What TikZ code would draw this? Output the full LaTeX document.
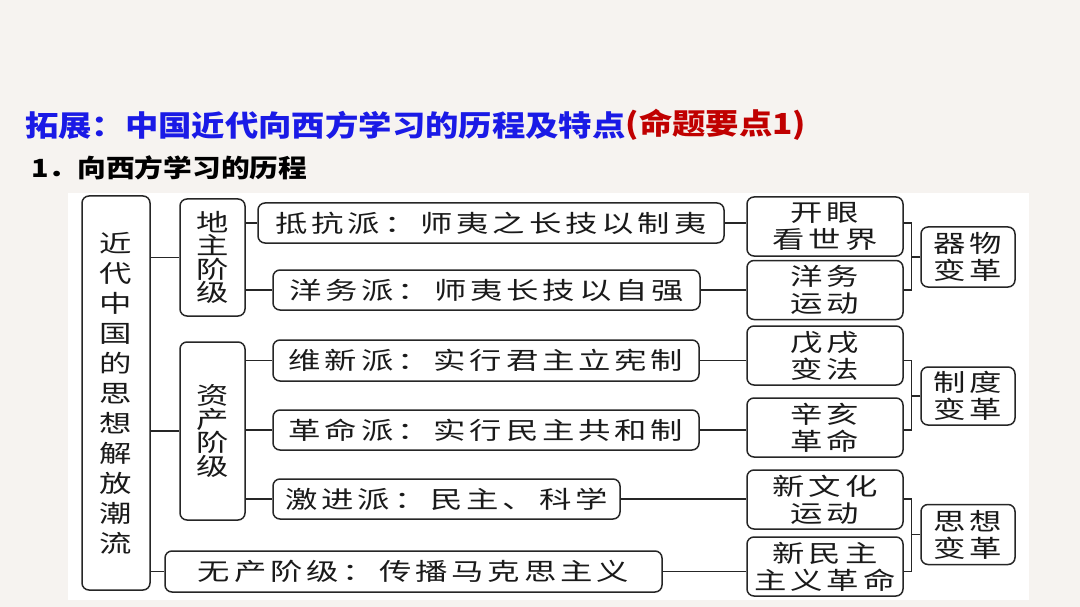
\documentclass[tikz,border=0pt]{standalone}
\usepackage{fontspec}
\usepackage{xcolor}
\usepackage{tikz}
\newfontfamily\BoxCJK[FakeStretch=1.35,LetterSpace=16]{Noto Sans CJK SC}
\newfontfamily\StackCJK[FakeStretch=1.35]{Noto Sans CJK SC}
\newfontfamily\HeadCJK[FakeStretch=1.15]{Noto Sans CJK SC}
\definecolor{SlideBlue}{HTML}{1A1AE6}
\definecolor{SlideRed}{HTML}{C00000}
\definecolor{SlideInk}{HTML}{1A1A1A}
\definecolor{SlideLine}{HTML}{262626}
\definecolor{SlidePaper}{HTML}{F6F3F0}
\newcommand{\HeadText}{\HeadCJK\bfseries\fontsize{29}{32}\selectfont}
\newcommand{\SubHeadText}{\HeadCJK\bfseries\fontsize{25}{27}\selectfont}
\newcommand{\BoxText}{\BoxCJK\fontsize{24}{27}\selectfont}
\newcommand{\StackText}{\StackCJK\fontsize{24}{23.5}\selectfont}
\newcommand{\RootText}{\StackCJK\fontsize{24}{30}\selectfont}
\tikzset{
  round box/.style={draw=SlideLine,line width=1.5pt,rounded corners=7pt,fill=white,
    inner sep=0pt,text=SlideInk,align=center,font=\BoxText},
  event box/.style={round box,minimum width=156,minimum height=59},
  change box/.style={round box,minimum width=94,minimum height=60},
  link line/.style={draw=SlideLine,line width=1.5pt}
}

\begin{document}
\begin{tikzpicture}[x=1pt,y=-1pt]
  % pixel grid of the slide, y runs downwards
  \path[use as bounding box] (0,0) rectangle (1080,607);
  \fill[SlidePaper] (0,0) rectangle (1080,607);
  \fill[white] (68,193) rectangle (1029,600);

  \node[anchor=west,inner sep=0pt,font=\HeadText,text=SlideBlue] (title) at (25,125)
    {拓展：中国近代向西方学习的历程及特点};
  \node[anchor=west,inner sep=0pt,font=\HeadText,text=SlideRed] (titletag) at (title.east)
    {(命题要点1)};
  \node[anchor=west,inner sep=0pt,font=\SubHeadText,text=black] (subtitle) at (31,168)
    {1．向西方学习的历程};

  \node[round box,font=\RootText,minimum width=68,minimum height=394] (root) at (116,393)
    {近\\代\\中\\国\\的\\思\\想\\解\\放\\潮\\流};
  \node[round box,font=\StackText,minimum width=65,minimum height=117] (dizhu) at (212.5,257.5)
    {地\\主\\阶\\级};
  \node[round box,font=\StackText,minimum width=65,minimum height=178] (zichan) at (212.5,431)
    {资\\产\\阶\\级};

  \node[round box,minimum width=466,minimum height=40] (dikang) at (491,223)
    {抵抗派：师夷之长技以制夷};
  \node[round box,minimum width=427,minimum height=40] (yangwu) at (486.5,290)
    {洋务派：师夷长技以自强};
  \node[round box,minimum width=426,minimum height=41] (weixin) at (486,360.5)
    {维新派：实行君主立宪制};
  \node[round box,minimum width=426,minimum height=40] (geming) at (486,430)
    {革命派：实行民主共和制};
  \node[round box,minimum width=347,minimum height=40] (jijin) at (446.5,499)
    {激进派：民主、科学};
  \node[round box,minimum width=497,minimum height=41] (wuchan) at (413.5,571.5)
    {无产阶级：传播马克思主义};

  \foreach \nm/\yy/\txt in {kaiyan/226.5/{开眼\\看世界}, ywyd/290/{洋务\\运动},
      wuxu/355.5/{戊戌\\变法}, xinhai/427.5/{辛亥\\革命},
      xinwenhua/499.5/{新文化\\运动}, xinminzhu/566.5/{新民主\\主义革命}}
    \node[event box] (\nm) at (825,\yy) {\txt};

  \node[change box] (qiwu) at (968,257) {器物\\变革};
  \node[change box,minimum height=58] (zhidu) at (968,396) {制度\\变革};
  \node[change box] (sixiang) at (968,534.5) {思想\\变革};

  \draw[link line] (dizhu.west -| root.east) -- (dizhu.west);
  \draw[link line] (zichan.west -| root.east) -- (zichan.west);
  \draw[link line] (wuchan.west -| root.east) -- (wuchan.west);
  \foreach \cls/\grp in {dizhu/dikang,dizhu/yangwu,zichan/weixin,zichan/geming,zichan/jijin}
    \draw[link line] (\grp.west -| \cls.east) -- (\grp.west);
  \foreach \grp/\evt in {dikang/kaiyan,yangwu/ywyd,weixin/wuxu,geming/xinhai,
      jijin/xinwenhua,wuchan/xinminzhu}
    \draw[link line] (\grp.east) -- (\grp.east -| \evt.west);

  % brackets into the three kinds of change
  \foreach \evA/\grA/\evB/\grB/\kind in {kaiyan/dikang/ywyd/yangwu/qiwu,
      wuxu/weixin/xinhai/geming/zhidu, xinwenhua/jijin/xinminzhu/wuchan/sixiang}{
    \draw[link line] (\evA.east |- \grA.east) -| ([xshift=-9pt]\kind.west |- \grB.east)
      -- (\evB.east |- \grB.east);
    \draw[link line] (\kind.west) -- ([xshift=-9pt]\kind.west);
  }
\end{tikzpicture}
\end{document}
